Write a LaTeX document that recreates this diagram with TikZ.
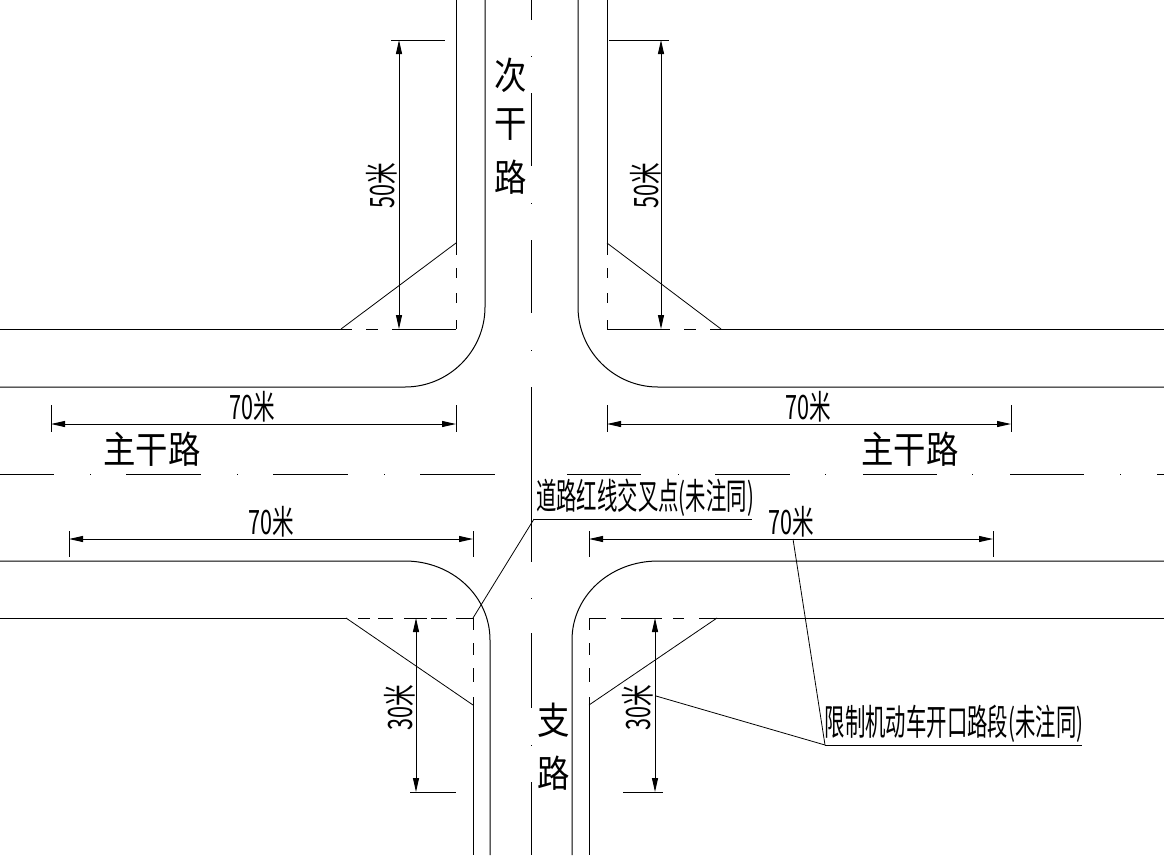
\documentclass[tikz,border=0pt]{standalone}
\usepackage{fontspec}
\usepackage{graphicx}
\newfontfamily\cadcjk{Noto Sans CJK SC}
\usetikzlibrary{arrows.meta}
\newcommand{\cadraw}[1]{\fontsize{30pt}{30pt}\selectfont\cadcjk #1}
\newcommand{\cadtext}[1]{\scalebox{.68}[1.2]{\cadraw{#1}}}
\newcommand{\caddim}[1]{\scalebox{.72}[1.12]{\cadraw{#1}}}
\newcommand{\cadroad}[1]{\scalebox{1.08}[1.25]{\cadraw{#1}}}
\tikzset{
  road/.style={line width=1pt,black},
  thin leader/.style={line width=.8pt,black},
  note line/.style={line width=1pt,black},
  dimline/.style={line width=1pt,black,{Stealth[length=14pt,width=6pt,inset=0pt]}-{Stealth[length=14pt,width=6pt,inset=0pt]}},
  extline/.style={line width=.9pt,black},
  label/.style={inner sep=0pt,outer sep=0pt,text=black},
  vlabel/.style={label,rotate=90}
}
\begin{document}
\begin{tikzpicture}[x=1pt,y=-1pt]
\useasboundingbox (0,0) rectangle (1164,855);
\fill[white] (0,0) rectangle (1164,855);

% ---------- upper roads
\draw[road] (456,0) -- (456,243);
\draw[road] (607,0) -- (607,243);
\draw[road] (485,0) -- (485,307) .. controls (485,351) and (449,387) .. (405,387) -- (0,387);
\draw[road] (578,0) -- (578,307) .. controls (578,351) and (614,387) .. (658,387) -- (1164,387);
% upper kerb lines with dashes
\draw[road] (0,329) -- (352,329) (366,329) -- (378,329) (392,329) -- (456,329);
\draw[road] (607,329) -- (670,329) (684,329) -- (696,329) (710,329) -- (1164,329);
\foreach \a/\b in {243/255,268/278,293/303,320/329}{
  \draw[road] (456,\a) -- (456,\b);
  \draw[road] (607,\a) -- (607,\b);
}
\draw[thin leader] (341,329) -- (456,243);
\draw[thin leader] (607,243) -- (721,329);

% ---------- lower roads
\draw[road] (0,561) -- (405,561) .. controls (452,561) and (490,596) .. (490,640) -- (490,855);
\draw[road] (1164,561) -- (658,561) .. controls (610,561) and (572,596) .. (572,640) -- (572,855);
\draw[road] (473,705) -- (473,855);
\draw[road] (589,705) -- (589,855);
\draw[road] (0,618) -- (347,618) (358,618) -- (370,618) (378,618) -- (393,618) (404,618) -- (427,618) (431,618) -- (447,618) (456,618) -- (473,618);
\draw[road] (589,618) -- (606,618) (621,618) -- (662,618) (673,618) -- (684,618) (699,618) -- (1164,618);
\foreach \a/\b in {618/630,643/655,668/682,697/705}{
  \draw[road] (473,\a) -- (473,\b);
  \draw[road] (589,\a) -- (589,\b);
}
\draw[thin leader] (346,618) -- (473,705);
\draw[thin leader] (589,705) -- (717,618);

% ---------- centre lines
\foreach \a/\b in {0/20,93/166,240/313,387/562,633/708,782/855}{
  \draw[road] (531,\a) -- (531,\b);
}
\foreach \d in {56,203,350,598,745}{
  \draw[road] (531,\d) -- (531,\d+1);
}
\foreach \a/\b in {0/54,126/201,273/348,420/495,567/641,715/790,863/937,1010/1084,1157/1164}{
  \draw[road] (\a,474) -- (\b,474);
}
\foreach \d in {90,237,384,678,825,972,1120}{
  \draw[road] (\d,474) -- (\d+1,474);
}

% ---------- dimension anchors
\coordinate (t1) at (399,40);  \coordinate (b1) at (399,329);
\coordinate (t2) at (661,40);  \coordinate (b2) at (661,329);
\coordinate (l1) at (51,424);  \coordinate (r1) at (456,424);
\coordinate (l2) at (607,424); \coordinate (r2) at (1011,424);
\coordinate (l3) at (69,539);  \coordinate (r3) at (473,539);
\coordinate (l4) at (589,539); \coordinate (r4) at (993,539);
\coordinate (t3) at (416,618); \coordinate (b3) at (416,792);
\coordinate (t4) at (655,618); \coordinate (b4) at (655,792);

\draw[dimline] (t1) -- (b1);
\draw[dimline] (t2) -- (b2);
\draw[dimline] (l1) -- (r1);
\draw[dimline] (l2) -- (r2);
\draw[dimline] (l3) -- (r3);
\draw[dimline] (l4) -- (r4);
\draw[dimline] (t3) -- (b3);
\draw[dimline] (t4) -- (b4);

% extension lines
\draw[extline] (391,40) -- (445,40);
\draw[extline] (609,40) -- (669,40);
\draw[extline] (410,792) -- (456,792);
\draw[extline] (623,792) -- (663,792);
\foreach \x in {51,456,607,1011}{ \draw[extline] (\x,405) -- (\x,432); }
\foreach \x in {69,473,589,993}{ \draw[extline] (\x,531) -- (\x,557); }

% ---------- labels
\node[label] (ci) at (511,75) {\cadroad{次}};
\node[label] (gan) at (511,125) {\cadroad{干}};
\node[label] (lu) at (511,177) {\cadroad{路}};
\node[label] (zhi) at (554,720) {\cadroad{支}};
\node[label] (zlu) at (554,773) {\cadroad{路}};
\node[label] (main1) at (152,449) {\cadroad{主干路}};
\node[label] (main2) at (910,449) {\cadroad{主干路}};
\node[label] (d1) at (252,407) {\caddim{70米}};
\node[label] (d2) at (808,407) {\caddim{70米}};
\node[label] (d3) at (271,522) {\caddim{70米}};
\node[label] (d4) at (791,522) {\caddim{70米}};
\node[vlabel] (v1) at (382,186) {\caddim{50米}};
\node[vlabel] (v2) at (646,186) {\caddim{50米}};
\node[vlabel] (v3) at (400,708) {\caddim{30米}};
\node[vlabel] (v4) at (638,708) {\caddim{30米}};
\node[label] (note1) at (645,498) {\cadtext{道路红线交叉点(未注同)}};
\node[label] (note2) at (954,724) {\cadtext{限制机动车开口路段(未注同)}};

% ---------- leaders
\coordinate (n1a) at (473,618);
\coordinate (n1b) at (534,519);
\coordinate (n1c) at (752,519);
\coordinate (n2a) at (825,745);
\coordinate (n2b) at (1082,745);
\coordinate (n2c) at (793,539);
\coordinate (n2d) at (656,696);
\draw[thin leader] (n1a) -- (n1b);
\draw[note line] (n1b) -- (n1c);
\draw[thin leader] (n2c) -- (n2a);
\draw[note line] (n2a) -- (n2b);
\draw[thin leader] (n2d) -- (n2a);
\end{tikzpicture}
\end{document}
